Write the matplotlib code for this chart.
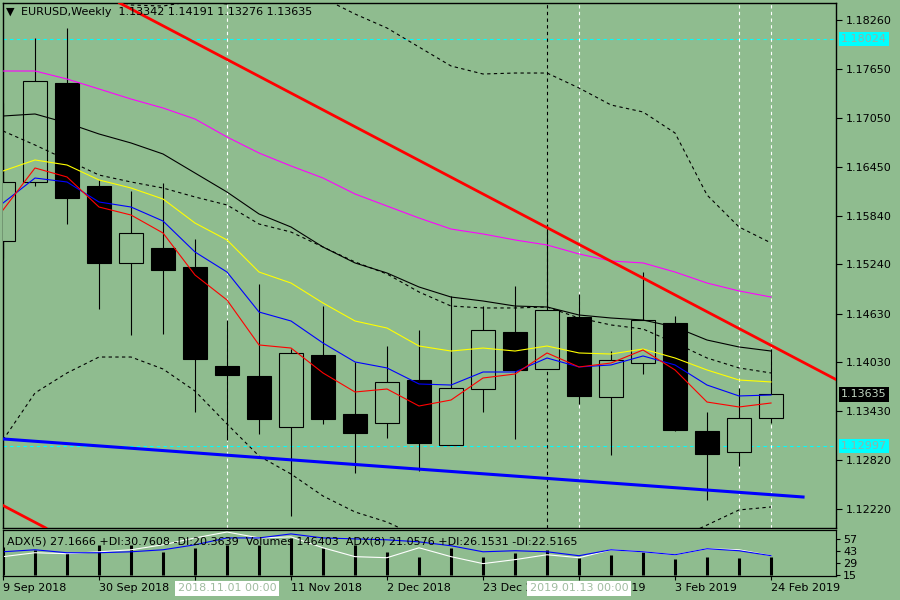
import numpy as np
import matplotlib.pyplot as plt
from matplotlib.patches import Rectangle
from matplotlib.transforms import blended_transform_factory as blend

plt.rcParams['font.family'] = ['DejaVu Sans']
bg = '#8fbc8f'

# weekly bars, EURUSD
weeks = ['9 Sep 2018', '16 Sep 2018', '23 Sep 2018', '30 Sep 2018', '7 Oct 2018',
         '14 Oct 2018', '21 Oct 2018', '28 Oct 2018', '4 Nov 2018', '11 Nov 2018',
         '18 Nov 2018', '25 Nov 2018', '2 Dec 2018', '9 Dec 2018', '16 Dec 2018',
         '23 Dec 2018', '30 Dec 2018', '6 Jan 2019', '13 Jan 2019', '20 Jan 2019',
         '27 Jan 2019', '3 Feb 2019', '10 Feb 2019', '17 Feb 2019', '24 Feb 2019']
opens = [1.15530, 1.16265, 1.17482, 1.16210, 1.15259, 1.15444, 1.15209, 1.13986, 1.13863,
         1.13233, 1.14122, 1.13393, 1.13282, 1.13813, 1.13010, 1.13702, 1.14406, 1.13949,
         1.14592, 1.13603, 1.14023, 1.14517, 1.13183, 1.12924, 1.13342]
highs = [1.17235, 1.18038, 1.18161, 1.16284, 1.16148, 1.16247, 1.15555, 1.14554, 1.14999,
         1.14196, 1.14727, 1.14036, 1.14233, 1.14431, 1.14851, 1.14727, 1.14974, 1.15740,
         1.14876, 1.14172, 1.15147, 1.14604, 1.13418, 1.13715, 1.14191]
lows = [1.15320, 1.16210, 1.15740, 1.14690, 1.14369, 1.14382, 1.13418, 1.13072, 1.13146,
        1.12133, 1.13270, 1.12665, 1.13097, 1.12689, 1.13005, 1.13418, 1.13085, 1.13949,
        1.13517, 1.12887, 1.13887, 1.13183, 1.12331, 1.12751, 1.13276]
closes = [1.16259, 1.17507, 1.16061, 1.15259, 1.15629, 1.15172, 1.14073, 1.13875, 1.13332,
          1.14147, 1.13332, 1.13159, 1.13789, 1.13035, 1.13715, 1.14431, 1.13937, 1.14678,
          1.13616, 1.14060, 1.14554, 1.13196, 1.12899, 1.13344, 1.13635]

ma_magenta = [1.17630, 1.17630, 1.17531, 1.17408, 1.17284, 1.17173, 1.17037, 1.16815, 1.16617,
              1.16457, 1.16308, 1.16111, 1.15962, 1.15814, 1.15678, 1.15617, 1.15543, 1.15481,
              1.15370, 1.15283, 1.15259, 1.15147, 1.15011, 1.14913, 1.14838]
ma_black = [1.17074, 1.17099, 1.16988, 1.16852, 1.16741, 1.16605, 1.16370, 1.16135, 1.15864,
            1.15703, 1.15456, 1.15259, 1.15135, 1.14962, 1.14838, 1.14789, 1.14727, 1.14715,
            1.14616, 1.14579, 1.14554, 1.14468, 1.14307, 1.14221, 1.14171]
ma_yellow = [1.16395, 1.16531, 1.16469, 1.16284, 1.16185, 1.16049, 1.15752, 1.15543, 1.15147,
             1.15011, 1.14764, 1.14542, 1.14455, 1.14233, 1.14171, 1.14208, 1.14171, 1.14233,
             1.14147, 1.14134, 1.14196, 1.14085, 1.13937, 1.13813, 1.13789]
ma_blue = [1.15999, 1.16308, 1.16259, 1.16012, 1.15950, 1.15777, 1.15394, 1.15147, 1.14653,
           1.14542, 1.14270, 1.14036, 1.13962, 1.13764, 1.13751, 1.13912, 1.13912, 1.14085,
           1.13974, 1.13999, 1.14110, 1.13999, 1.13751, 1.13616, 1.13628]
ma_red = [1.15913, 1.16432, 1.16321, 1.15950, 1.15851, 1.15629, 1.15110, 1.14801, 1.14246,
          1.14208, 1.13900, 1.13665, 1.13702, 1.13492, 1.13566, 1.13838, 1.13887, 1.14147,
          1.13974, 1.14023, 1.14184, 1.13937, 1.13541, 1.13480, 1.13529]
bb_mid = [1.16889, 1.16716, 1.16531, 1.16345, 1.16259, 1.16185, 1.16074, 1.15975, 1.15740,
          1.15641, 1.15456, 1.15271, 1.15123, 1.14900, 1.14727, 1.14703, 1.14703, 1.14715,
          1.14579, 1.14493, 1.14443, 1.14270, 1.14085, 1.13962, 1.13900]
bb_up = [1.20706, 1.19779, 1.19162, 1.18569, 1.18445, 1.18433, 1.18495, 1.18458, 1.18581,
         1.18631, 1.18532, 1.18334, 1.18161, 1.17926, 1.17692, 1.17593, 1.17605, 1.17605,
         1.17420, 1.17210, 1.17124, 1.16864, 1.16098, 1.15703, 1.15506]
bb_low = [1.13072, 1.13653, 1.13900, 1.14097, 1.14097, 1.13949, 1.13677, 1.13270, 1.12874,
          1.12652, 1.12380, 1.12183, 1.12059, 1.11874, 1.11763, 1.11812, 1.11800, 1.11825,
          1.11738, 1.11775, 1.11763, 1.11837, 1.12022, 1.12208, 1.12245]

volumes = [228000, 203000, 179000, 244000, 244000, 187000, 220000, 244000, 244000, 301000,
           220000, 244000, 187000, 146000, 220000, 146000, 179000, 203000, 138000, 163000,
           187000, 130000, 146000, 138000, 146403]
adx_blue = [42.2, 44.5, 41.1, 41.1, 42.2, 44.5, 50.2, 58.1, 58.1, 62.7, 58.1, 57.0, 55.9,
            53.6, 49.1, 42.2, 43.4, 42.2, 37.7, 44.5, 42.2, 38.8, 45.7, 43.4, 37.7]
adx_white = [36.6, 41.1, 40.0, 42.2, 44.5, 50.2, 58.1, 64.9, 58.1, 59.3, 46.8, 36.6, 35.4,
             46.8, 36.6, 28.6, 33.2, 38.8, 35.4, 44.5, 42.2, 38.8, 45.7, 44.5, 37.7]

price_ticks = [1.18260, 1.17650, 1.17050, 1.16450, 1.15840, 1.15240, 1.14630, 1.14030,
               1.13430, 1.12820, 1.12220]
adx_ticks = [57, 43, 29, 15]
label_idx = [0, 3, 6, 9, 12, 15, 18, 21, 24]

levels = [1.18024, 1.12997]
white_vlines = [7, 18, 23, 24]
black_vlines = [17]
red_trend_k = [0, 24]
red_trend_p = [1.19227, 1.14241]
red_channel_p0 = 1.12263
blue_trend_k = [0, 25]
blue_trend_p = [1.13085, 1.12368]

W, H = 900, 600


def rect(x0, y0, x1, y1):
    return [x0 / W, 1 - y1 / H, (x1 - x0) / W, (y1 - y0) / H]


fig = plt.figure(figsize=(9, 6), dpi=100, facecolor=bg)
ax = fig.add_axes(rect(3, 3, 836, 528), facecolor=bg)
axv = fig.add_axes(rect(3, 530, 836, 576), facecolor=bg)
axa = fig.add_axes(rect(3, 530, 836, 576))
axa.patch.set_alpha(0)

x = np.arange(len(opens))
xlim = (0, 26.03)

# candles
for i in x:
    o, h, l, c = opens[i], highs[i], lows[i], closes[i]
    ax.vlines(i, l, h, color='k', lw=0.8, zorder=3)
    up = c >= o
    ax.add_patch(Rectangle((i - 0.375, min(o, c)), 0.75, abs(c - o),
                           facecolor=bg if up else 'k', edgecolor='k', lw=0.8, zorder=4))

dash = (0, (3, 3))
for lv in levels:
    ax.axhline(lv, color='#00ffff', lw=0.8, ls=dash, zorder=2)
for v in white_vlines:
    ax.axvline(v, color='white', lw=0.8, ls=dash, zorder=2)
for v in black_vlines:
    ax.axvline(v, color='k', lw=0.8, ls=dash, zorder=2)

ax.plot(x, ma_magenta, color='#ff00ff', lw=0.8, zorder=5)
ax.plot(x, ma_black, color='k', lw=0.8, zorder=5)
ax.plot(x, bb_mid, color='k', lw=0.8, ls=dash, zorder=5)
ax.plot(x, bb_up, color='k', lw=0.8, ls=dash, zorder=5)
ax.plot(x, bb_low, color='k', lw=0.8, ls=dash, zorder=5)
ax.plot(x, ma_yellow, color='#ffff00', lw=0.8, zorder=5)
ax.plot(x, ma_blue, color='#0000ff', lw=0.8, zorder=5)
ax.plot(x, ma_red, color='#ff0000', lw=0.8, zorder=5)

# trend lines
slope = (red_trend_p[1] - red_trend_p[0]) / (red_trend_k[1] - red_trend_k[0])
ax.axline((red_trend_k[0], red_trend_p[0]), (red_trend_k[1], red_trend_p[1]),
          color='#ff0000', lw=2, zorder=6)
ax.axline((0, red_channel_p0), slope=slope, color='#ff0000', lw=2, zorder=6)
ax.plot(blue_trend_k, blue_trend_p, color='#0000ff', lw=2.2, zorder=6)

ax.set_xlim(*xlim)
ax.set_ylim(1.11985, 1.18470)
ax.set_xticks([])
ax.yaxis.tick_right()
ax.set_yticks(price_ticks)
ax.set_yticklabels(['%.5f' % p for p in price_ticks])
ax.tick_params(axis='y', direction='out', length=4, width=0.8, labelsize=8, pad=3)
for s in ax.spines.values():
    s.set_linewidth(1)

tr = blend(ax.transAxes, ax.transData)
for lv in levels:
    ax.text(1.006, lv, '%.5f' % lv, transform=tr, ha='left', va='center', fontsize=8,
            color='#8fb4a8', clip_on=False, zorder=10,
            bbox=dict(facecolor='#00ffff', edgecolor='none', pad=1.5))
ax.text(1.006, closes[-1], '%.5f' % closes[-1], transform=tr, ha='left', va='center',
        fontsize=8, color='#c0d4c0', clip_on=False, zorder=10,
        bbox=dict(facecolor='black', edgecolor='none', pad=1.5))

# volume + ADX panel
axv.vlines(x, 0, volumes, color='k', lw=2.2)
axv.set_xlim(*xlim)
axv.set_ylim(-12200, 366000)
axv.set_xticks([])
axv.set_yticks([])

axa.plot(x, adx_white, color='white', lw=0.8)
axa.plot(x, adx_blue, color='#0000ff', lw=0.8)
axa.set_xlim(*xlim)
axa.set_ylim(14.4, 67.2)
axa.yaxis.tick_right()
axa.set_yticks(adx_ticks)
axa.tick_params(axis='y', direction='out', length=3, labelsize=8, pad=2)
axa.set_xticks(label_idx)
axa.set_xticklabels([weeks[i] for i in label_idx])
axa.tick_params(axis='x', direction='out', length=3, labelsize=8, pad=2)
for lbl in axa.get_xticklabels():
    lbl.set_ha('left')

trx = blend(axa.transData, axa.transAxes)
axa.text(7, -0.27, '2018.11.01 00:00', transform=trx, ha='center', va='center', fontsize=8,
         color='#a0bca0', clip_on=False, zorder=10,
         bbox=dict(facecolor='white', edgecolor='none', pad=2))
axa.text(18, -0.27, '2019.01.13 00:00', transform=trx, ha='center', va='center', fontsize=8,
         color='#a0bca0', clip_on=False, zorder=10,
         bbox=dict(facecolor='white', edgecolor='none', pad=2))

fig.text(7 / W, 1 - 541 / H,
         'ADX(5) 27.1666 +DI:30.7608 -DI:20.3639  Volumes 146403  ADX(8) 21.0576 +DI:26.1531 -DI:22.5165',
         fontsize=8, va='center', ha='left')

# header
fig.text(6 / W, 1 - 12 / H, '\u25bc', fontsize=8, va='center', ha='left')
fig.text(21 / W, 1 - 12 / H, 'EURUSD,Weekly  1.13342 1.14191 1.13276 1.13635',
         fontsize=8, va='center', ha='left')

fig.savefig('out.png', dpi=100, facecolor=bg)
